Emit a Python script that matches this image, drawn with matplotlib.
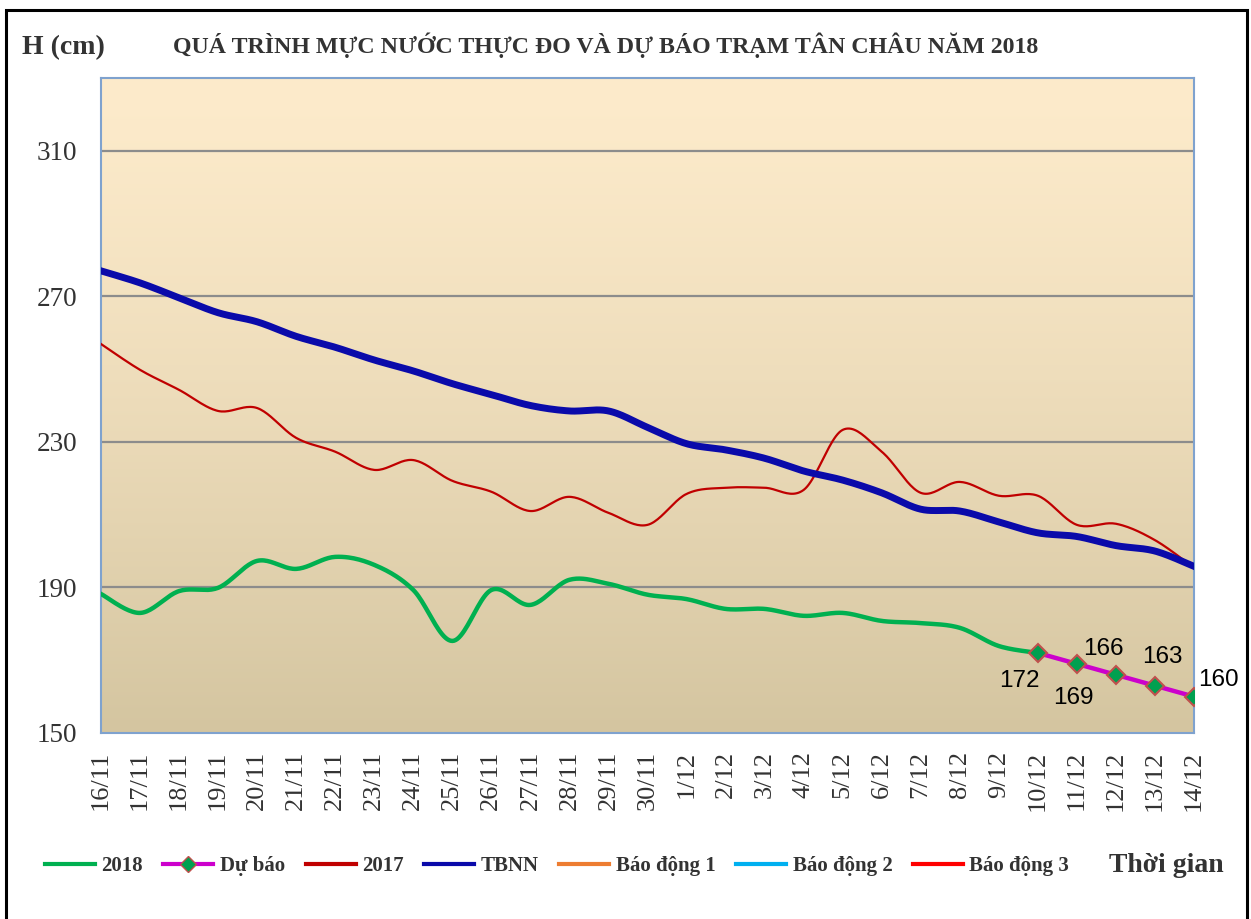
# Imports =====================================================================
import numpy as np
import matplotlib
matplotlib.use("Agg")
import matplotlib.pyplot as plt
from matplotlib.lines import Line2D
from matplotlib.patches import Rectangle

# Data ========================================================================
dates = ["16/11", "17/11", "18/11", "19/11", "20/11", "21/11", "22/11", "23/11",
         "24/11", "25/11", "26/11", "27/11", "28/11", "29/11", "30/11", "1/12",
         "2/12", "3/12", "4/12", "5/12", "6/12", "7/12", "8/12", "9/12",
         "10/12", "11/12", "12/12", "13/12", "14/12"]

# 2018 observed (16/11 -> 10/12)
h2018 = [188.2, 183.0, 189.0, 189.9, 197.3, 195.1, 198.4, 196.2, 189.3, 175.3,
         189.3, 185.2, 192.1, 191.0, 188.0, 186.8, 184.1, 184.1, 182.2, 183.0,
         180.8, 180.2, 178.9, 173.9, 172.0]

# forecast (10/12 -> 14/12)
forecast = [172, 169, 166, 163, 160]

# 2017 same period
h2017 = [256.9, 249.8, 244.3, 238.5, 239.3, 231.1, 227.3, 222.3, 225.0, 219.3,
         216.3, 211.0, 214.9, 210.5, 207.2, 215.7, 217.4, 217.4, 216.8, 233.3,
         227.3, 216.0, 219.0, 215.2, 215.2, 207.2, 207.5, 203.0, 195.4]

# long-term average (TBNN)
tbnn = [277.0, 273.7, 269.6, 265.5, 263.0, 259.0, 256.0, 252.5, 249.5, 246.0,
        243.0, 240.0, 238.5, 238.5, 234.0, 229.5, 227.8, 225.5, 222.0, 219.5,
        216.0, 211.5, 211.0, 208.0, 205.0, 204.0, 201.5, 200.0, 195.8]

# alarm levels (cm) - above the visible range
alarm_levels = [350, 400, 450]
alarm_names = ["Báo động 1", "Báo động 2", "Báo động 3"]
alarm_colors = ["#ED7D31", "#00B0F0", "#FF0000"]


# Helpers =====================================================================
def smooth(x, y, n=24):
    """Excel-like smoothed line (Catmull-Rom bezier)."""
    p = np.column_stack([x, y]).astype(float)
    out = []
    t = np.linspace(0, 1, n)[:, None]
    for i in range(len(p) - 1):
        p0 = p[max(i - 1, 0)]
        p1 = p[i]
        p2 = p[i + 1]
        p3 = p[min(i + 2, len(p) - 1)]
        c1 = p1 + (p2 - p0) / 6
        c2 = p2 - (p3 - p1) / 6
        seg = ((1 - t) ** 3) * p1 + 3 * ((1 - t) ** 2) * t * c1 \
            + 3 * (1 - t) * t ** 2 * c2 + t ** 3 * p2
        out.append(seg if i == 0 else seg[1:])
    s = np.vstack(out)
    return s[:, 0], s[:, 1]


# Plot ========================================================================
serif = ["Liberation Serif", "DejaVu Serif"]
fig = plt.figure(figsize=(12.51, 9.19), dpi=100)
ax = fig.add_axes([101 / 1251, 1 - 733 / 919, (1194 - 101) / 1251, (733 - 78) / 919])

x_all = np.arange(len(dates))

# gradient background
grad = np.linspace(0, 1, 256)[:, None]
top = np.array([0xFD, 0xEB, 0xCB]) / 255
bot = np.array([0xD4, 0xC5, 0xA0]) / 255
img = top + (bot - top) * grad[..., None] ** 1.3
ax.imshow(img, extent=[0, 1, 0, 1], transform=ax.transAxes, aspect="auto",
          zorder=0)

for lvl in [190, 230, 270, 310]:
    ax.axhline(lvl, color="#8c8c8c", lw=1.6, zorder=1)

xs, ys = smooth(x_all[:len(h2018)], h2018)
ax.plot(xs, ys, color="#00B050", lw=3.2, zorder=3)
xf = x_all[len(h2018) - 1:]
ax.plot(xf, forecast, color="#CC00CC", lw=3.2, marker="D", markersize=9,
        markerfacecolor="#00A050", markeredgecolor="#C0504D",
        markeredgewidth=1.5, zorder=5)
xs, ys = smooth(x_all, h2017)
ax.plot(xs, ys, color="#C00000", lw=1.6, zorder=3)
xs, ys = smooth(x_all, tbnn)
ax.plot(xs, ys, color="#0A0AAA", lw=5, zorder=4)
for lvl, c in zip(alarm_levels, alarm_colors):
    ax.axhline(lvl, color=c, lw=2.5, zorder=2)

# forecast labels
offsets = [(-18, -28), (-4, -34), (-13, 26), (7, 29), (24, 17)]
for xi, v, off in zip(xf, forecast, offsets):
    ax.annotate(str(v), (xi, v), xytext=(off[0] / 1.389, off[1] / 1.389),
                textcoords="offset points", ha="center", va="center",
                fontsize=17.5, family=["Liberation Sans", "DejaVu Sans"],
                color="black", zorder=6, annotation_clip=False)

ax.set_xlim(0, len(dates) - 1)
ax.set_ylim(150, 330)
ax.set_yticks([150, 190, 230, 270, 310])
ax.set_xticks(x_all)
ax.set_xticklabels(dates, rotation=90)
ax.tick_params(axis="both", length=0, colors="#333333")
ax.tick_params(axis="y", pad=17, labelsize=19.5)
ax.tick_params(axis="x", pad=13, labelsize=19)
for lab in ax.get_xticklabels() + ax.get_yticklabels():
    lab.set_family(serif)
for sp in ax.spines.values():
    sp.set_color("#7FA2CE")
    sp.set_linewidth(1.5)

# texts
fig.text(22 / 1251, 1 - 48 / 919, "H (cm)", fontsize=20, fontweight="bold",
         family=serif, color="#333333", va="center", ha="left")
fig.text(606 / 1251, 1 - 45 / 919,
         "QUÁ TRÌNH MỰC NƯỚC THỰC ĐO VÀ DỰ BÁO TRẠM TÂN CHÂU NĂM 2018",
         fontsize=17.2, fontweight="bold", family=serif, color="#333333",
         va="center", ha="center")
fig.text(1166 / 1251, 1 - 866 / 919, "Thời gian", fontsize=20,
         fontweight="bold", family=serif, color="#333333", va="center",
         ha="center")

# legend
handles = [
    Line2D([], [], color="#00B050", lw=3),
    Line2D([], [], color="#CC00CC", lw=3, marker="D", markersize=8,
           markerfacecolor="#00A050", markeredgecolor="#C0504D"),
    Line2D([], [], color="#C00000", lw=3),
    Line2D([], [], color="#0A0AAA", lw=3),
] + [Line2D([], [], color=c, lw=3) for c in alarm_colors]
labels = ["2018", "Dự báo", "2017", "TBNN"] + alarm_names
leg = fig.legend(handles, labels, loc="center", ncol=7,
                 bbox_to_anchor=(557 / 1251, 1 - 866 / 919), frameon=False,
                 handlelength=2.4, handletextpad=0.3, columnspacing=1.0,
                 prop={"family": serif, "weight": "bold", "size": 15})
for t in leg.get_texts():
    t.set_color("#333333")

# outer frame
fig.patches.append(Rectangle((6 / 1251, -0.02), (1247 - 6) / 1251,
                             1 - 10 / 919 + 0.02, transform=fig.transFigure,
                             fill=False, edgecolor="black", lw=2.2))

fig.savefig("out.png", dpi=100)

# ##### END OF FILE ###########################################################
